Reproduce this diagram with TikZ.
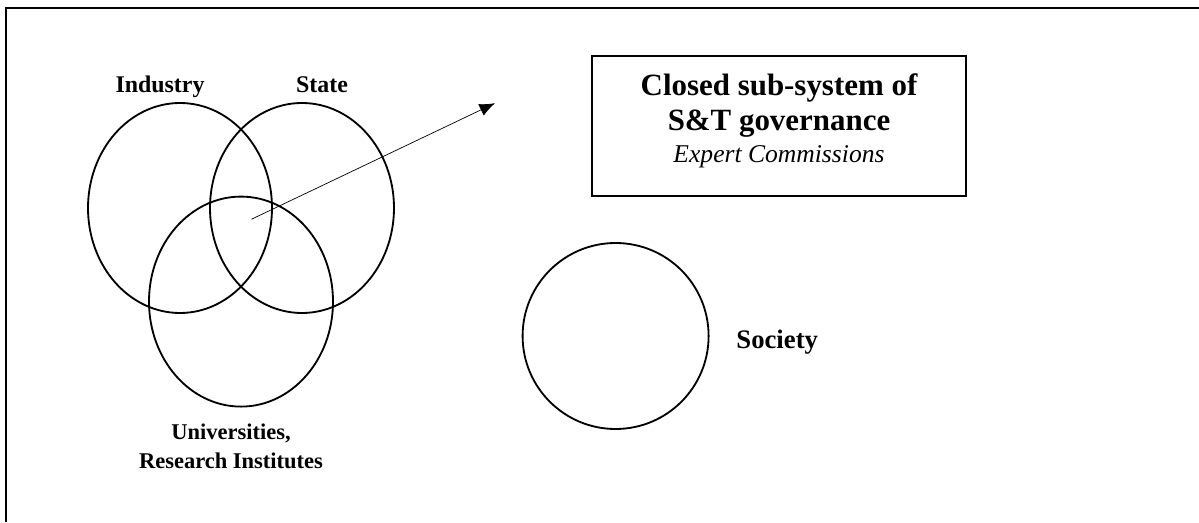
\documentclass[tikz,border=0pt]{standalone}
\usepackage{fontspec}
\setmainfont{Liberation Serif}
\usetikzlibrary{arrows.meta, positioning, shapes.geometric}

\newcommand{\headfont}{\fontsize{22}{24.9}\selectfont\bfseries}
\newcommand{\notefont}{\fontsize{18.2}{22.8}\selectfont\mdseries\itshape}

\begin{document}
\begin{tikzpicture}[auto, >=latex]
			\tikzstyle{sector} = [line width=1.3pt, draw=black, ellipse, minimum width=4.6cm, minimum height=5.25cm, inner sep=0pt]
			\tikzstyle{public} = [line width=1.3pt, draw=black, circle, minimum size=4.65cm, inner sep=0pt]
			\tikzstyle{panel} = [line width=1.2pt, draw=black, rectangle, minimum width=9.35cm, minimum height=3.5cm, align=center, inner sep=0pt, font=\headfont]
			\tikzstyle{lbl} = [font=\fontsize{17}{20}\selectfont\bfseries, align=center, anchor=base, inner sep=0pt]
			\tikzstyle{arrow} = [line width=0.5pt, -{Latex[length=11pt, width=9pt]}]

			\useasboundingbox (0, 0) rectangle (29.975, 13.05);
			\draw[line width=1.3pt] (0.15, 0) |- (29.975, 12.85);

			% three overlapping sectors
			\node[sector]	at (4.5, 7.85)		(industry)	{};
			\node[sector]	at (7.55, 7.85)		(state)		{};
			\node[sector]	at (6.025, 5.51)	(univ)		{};
			\node[public]	at (15.39, 4.65)	(society)	{};

			\node[lbl]	at (4.0, 10.73)		(industrylbl)	{Industry};
			\node[lbl]	at (8.05, 10.73)	(statelbl)		{State};
			\node[lbl, font=\fontsize{16}{20}\selectfont\bfseries]	at (5.775, 1.35)	(univlbl)	{Universities,\\Research Institutes};
			\node[lbl, font=\fontsize{19}{20}\selectfont\bfseries]	at (19.43, 4.325)	(societylbl)	{Society};

			\node[panel]	at (19.475, 9.9)	(commission)	{Closed sub-system of\\S\&T governance\\[-2.1pt]
				\notefont Expert Commissions\rule[-11pt]{0pt}{11pt}};

			\coordinate (core)		at (6.29, 7.57);
			\coordinate (toward)	at (12.375, 10.47);
			\draw [arrow] 	(core) -- (toward);
		\end{tikzpicture}
\end{document}
